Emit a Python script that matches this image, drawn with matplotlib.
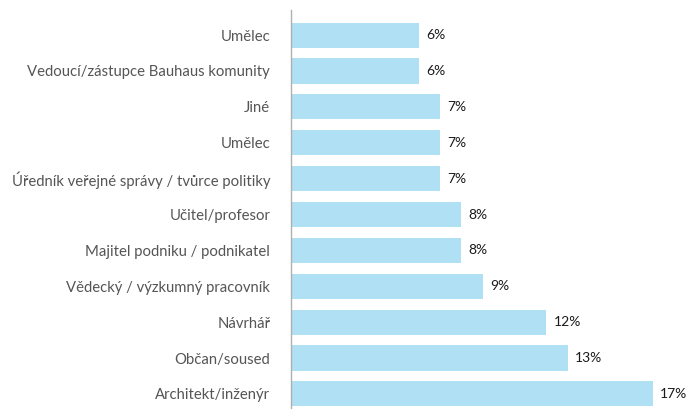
import matplotlib.pyplot as plt

categories = [
    "Architekt/inženýr",
    "Občan/soused",
    "Návrhář",
    "Vědecký / výzkumný pracovník",
    "Majitel podniku / podnikatel",
    "Učitel/profesor",
    "Úředník veřejné správy / tvůrce politiky",
    "Umělec",
    "Jiné",
    "Vedoucí/zástupce Bauhaus komunity",
    "Umělec",
]
values = [17, 13, 12, 9, 8, 8, 7, 7, 7, 6, 6]

plt.rcParams['font.family'] = ['Lato', 'DejaVu Sans']

fig = plt.figure(figsize=(6.89, 4.09), dpi=100)
ax = fig.add_axes([291 / 689, 0, 1 - 291 / 689, 1 - 10 / 409])

pos = list(range(len(values)))
ax.barh(pos, values, height=0.7, color='#afe0f4')
for y, v in zip(pos, values):
    ax.text(v + 0.35, y, f"{v}%", va='center', ha='left', fontsize=10, color='#1a1a1a')

ax.set_yticks(pos)
ax.set_yticklabels(categories, fontsize=10.7, color='#555555')
ax.tick_params(axis='y', length=0, pad=15)
ax.set_xticks([])
ax.set_xlim(0, 18.7)
ax.set_ylim(-0.42, 10.7)
for s in ['top', 'right', 'bottom']:
    ax.spines[s].set_visible(False)
ax.spines['left'].set_color('#b0b0b0')
ax.spines['left'].set_linewidth(1)

fig.savefig('out.png', dpi=100)
